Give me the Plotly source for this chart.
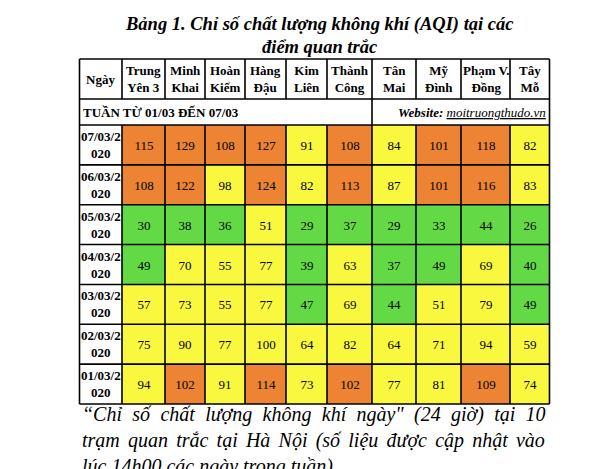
import plotly.graph_objects as go

# --- data -------------------------------------------------------------
stations = ["Trung<br>Yên 3", "Minh<br>Khai", "Hoàn<br>Kiếm", "Hàng<br>Đậu", "Kim<br>Liên",
            "Thành<br>Công", "Tân<br>Mai", "Mỹ<br>Đình", "Phạm V.<br>Đồng", "Tây<br>Mỗ"]
dates = ["07/03/2<br>020", "06/03/2<br>020", "05/03/2<br>020", "04/03/2<br>020",
         "03/03/2<br>020", "02/03/2<br>020", "01/03/2<br>020"]
aqi_0703 = [115, 129, 108, 127, 91, 108, 84, 101, 118, 82]
aqi_0603 = [108, 122, 98, 124, 82, 113, 87, 101, 116, 83]
aqi_0503 = [30, 38, 36, 51, 29, 37, 29, 33, 44, 26]
aqi_0403 = [49, 70, 55, 77, 39, 63, 37, 49, 69, 40]
aqi_0303 = [57, 73, 55, 77, 47, 69, 44, 51, 79, 49]
aqi_0203 = [75, 90, 77, 100, 64, 82, 64, 71, 94, 59]
aqi_0103 = [94, 102, 91, 114, 73, 102, 77, 81, 109, 74]
aqi = [aqi_0703, aqi_0603, aqi_0503, aqi_0403, aqi_0303, aqi_0203, aqi_0103]

title_lines = ["Bảng 1. Chỉ số chất lượng không khí (AQI) tại các", "điểm quan trắc"]
week_label = "TUẦN TỪ 01/03 ĐẾN 07/03"
website = "<b><i>Website:</i></b> <i><u>moitruongthudo.vn</u></i>"
caption = ["“Chỉ số chất lượng không khí ngày\" (24 giờ) tại 10",
           "trạm quan trắc tại Hà Nội (số liệu được cập nhật vào",
           "lúc 14h00 các ngày trong tuần)."]
caption_spacing = [5.3, 3.2, 0]   # extra word spacing to mimic justified text

# --- layout (pixel-like coordinates) -----------------------------------
col_edges = [71.5, 114, 157, 197, 237, 278, 319, 364, 408, 453, 502, 541.5]
header_top, header_bot, week_bot, table_bot = 51, 91, 117, 396
n_rows = len(dates)
row_h = (table_bot - week_bot) / n_rows
row_edges = [week_bot + i * row_h for i in range(n_rows + 1)]

GREEN, YELLOW, ORANGE = "#63DA45", "#F9F83E", "#EC8433"
SERIF = "Liberation Serif"


def level(v):
    return 0 if v <= 50 else (1 if v <= 100 else 2)


z = [[level(v) for v in row] for row in aqi]
text = [[str(v) for v in row] for row in aqi]

fig = go.Figure()
fig.add_trace(go.Heatmap(
    z=z, x=col_edges[1:], y=row_edges, text=text, texttemplate="%{text}",
    textfont=dict(family=SERIF, size=13, color="black"),
    zmin=0, zmax=2, showscale=False, hoverinfo="skip",
    colorscale=[[0, GREEN], [0.333, GREEN], [0.333, YELLOW], [0.667, YELLOW],
                [0.667, ORANGE], [1, ORANGE]],
))

line = dict(color="black", width=1.6)
# horizontal lines
for yv in [header_top, header_bot, week_bot] + row_edges[1:]:
    fig.add_shape(type="line", x0=col_edges[0], x1=col_edges[-1], y0=yv, y1=yv, line=line)
# vertical lines
for i, xv in enumerate(col_edges):
    if i in (0, len(col_edges) - 1):
        fig.add_shape(type="line", x0=xv, x1=xv, y0=header_top, y1=table_bot, line=line)
    else:
        fig.add_shape(type="line", x0=xv, x1=xv, y0=header_top, y1=header_bot, line=line)
        fig.add_shape(type="line", x0=xv, x1=xv, y0=week_bot, y1=table_bot, line=line)
fig.add_shape(type="line", x0=col_edges[7], x1=col_edges[7], y0=header_bot, y1=week_bot, line=line)

hfont = dict(family=SERIF, size=13, color="black")
mid_h = (header_top + header_bot) / 2
fig.add_annotation(x=(col_edges[0] + col_edges[1]) / 2, y=mid_h, text="<b>Ngày</b>",
                   showarrow=False, font=hfont)
for i, s in enumerate(stations):
    fig.add_annotation(x=(col_edges[i + 1] + col_edges[i + 2]) / 2, y=mid_h, text=f"<b>{s}</b>",
                       showarrow=False, font=hfont)
for i, d in enumerate(dates):
    fig.add_annotation(x=(col_edges[0] + col_edges[1]) / 2, y=(row_edges[i] + row_edges[i + 1]) / 2,
                       text=f"<b>{d}</b>", showarrow=False, font=hfont)

mid_w = (header_bot + week_bot) / 2
fig.add_annotation(x=col_edges[0] + 1.5, y=mid_w, text=f"<b>{week_label}</b>", xanchor="left",
                   showarrow=False, font=hfont)
fig.add_annotation(x=col_edges[-1] - 1.5, y=mid_w, text=website, xanchor="right",
                   showarrow=False, font=hfont)

for i, ln in enumerate(title_lines):
    fig.add_annotation(x=311, y=16 + i * 23, text=f"<b><i>{ln}</i></b>", showarrow=False,
                       font=dict(family=SERIF, size=18.5, color="black"))

for i, ln in enumerate(caption):
    fig.add_annotation(x=col_edges[0], y=406 + i * 26, xanchor="left", showarrow=False,
                       text=f"<i><span style=\"word-spacing:{caption_spacing[i]}px\">{ln}</span></i>",
                       font=dict(family=SERIF, size=20, color="black"))

fig.update_xaxes(range=[0, 600], visible=False, fixedrange=True)
fig.update_yaxes(range=[469, 0], visible=False, fixedrange=True)
fig.update_layout(width=600, height=469, margin=dict(l=0, r=0, t=0, b=0),
                  plot_bgcolor="white", paper_bgcolor="white", showlegend=False)

fig.write_html("out.html")
